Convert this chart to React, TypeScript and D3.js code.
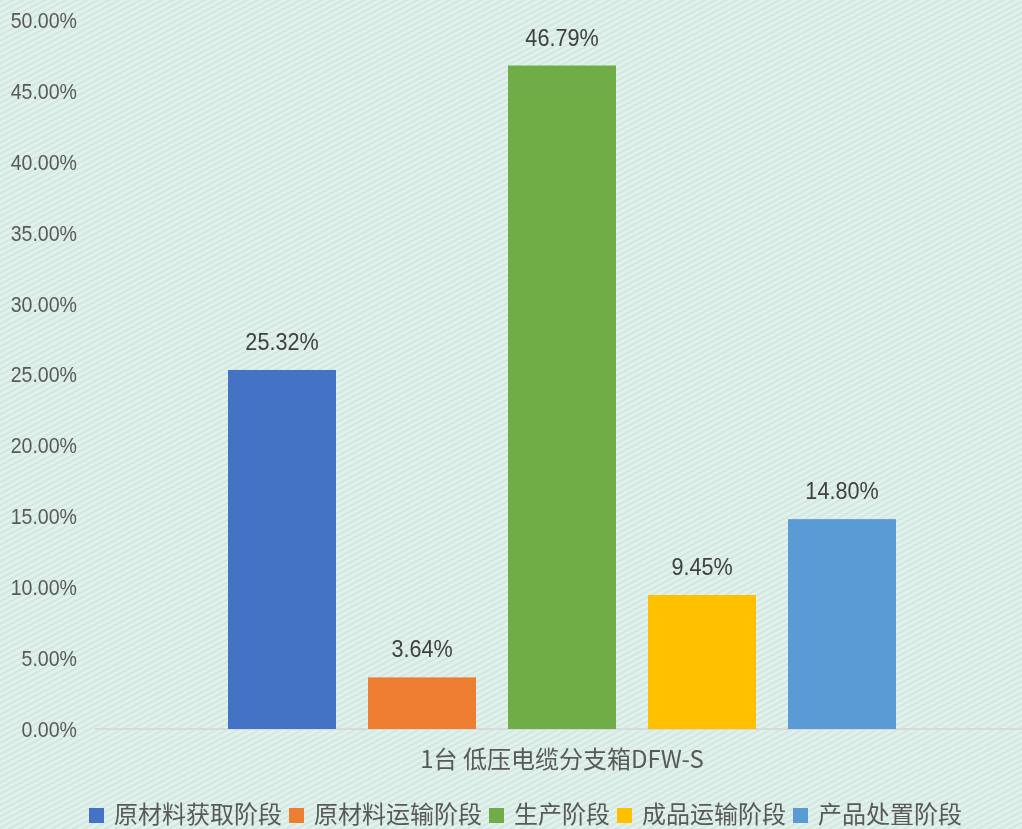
import React from "react";
import * as d3 from "d3";

const categories = ["1台 低压电缆分支箱DFW-S"];
const series = ["原材料获取阶段", "原材料运输阶段", "生产阶段", "成品运输阶段", "产品处置阶段"];
const values = [25.32, 3.64, 46.79, 9.45, 14.8];
const colors = ["#4472C4", "#ED7D31", "#70AD47", "#FFC000", "#5B9BD5"];
const yTicks = [0, 5, 10, 15, 20, 25, 30, 35, 40, 45, 50];

const W = 1022;
const H = 829;
const plotLeft = 95;
const plotRight = 1029;
const plotTop = 20;
const plotBottom = 729;

export default function App() {
  const y = d3.scaleLinear().domain([0, 50]).range([plotBottom, plotTop]);
  const x0 = d3.scaleBand().domain(categories).range([plotLeft, plotRight]).paddingInner(0).paddingOuter(0);
  const groupW = 700;
  const x1 = d3
    .scaleBand()
    .domain(series)
    .range([(x0.bandwidth() - groupW) / 2, (x0.bandwidth() + groupW) / 2])
    .paddingInner(32 / 140)
    .paddingOuter(16 / 140);

  const numFont = "'Liberation Sans', Arial, sans-serif";
  const cjkFont = "'Noto Sans CJK SC', 'Liberation Sans', sans-serif";

  // legend layout
  const legendFont = 24;
  const charW = 24;
  const sq = 15;
  const legendItems = series.map((s, i) => ({ s, i, w: sq + 10 + s.length * charW }));
  const gap = 7;
  let cx = 89;
  const legendPos = legendItems.map((d) => {
    const p = cx;
    cx += d.w + gap;
    return { ...d, x: p };
  });

  return (
    <svg
      width={W}
      height={H}
      style={{ position: "fixed", left: 0, top: 0, display: "block" }}
    >
      <defs>
        <pattern id="stripes" width="5" height="5" patternUnits="userSpaceOnUse" patternTransform="rotate(-28)">
          <rect width="5" height="5" fill="#e1f1ec" />
          <rect width="5" height="2" fill="#d3e7e1" />
        </pattern>
      </defs>
      <rect width={W} height={H} fill="url(#stripes)" />

      {/* baseline */}
      <line x1={plotLeft} x2={W} y1={y(0)} y2={y(0)} stroke="#d9d9d9" strokeWidth={2} />

      {/* y ticks */}
      {yTicks.map((t) => (
        <text
          key={t}
          transform={`translate(77,${y(t)}) scale(0.89,1)`}
          dy="0.36em"
          textAnchor="end"
          fontFamily={numFont}
          fontSize={22}
          fill="#595959"
        >
          {t.toFixed(2) + "%"}
        </text>
      ))}

      {/* bars */}
      {categories.map((c) => (
        <g key={c} transform={`translate(${x0(c)},0)`}>
          {series.map((s, i) => (
            <g key={s}>
              <rect
                x={x1(s)}
                y={y(values[i])}
                width={x1.bandwidth()}
                height={y(0) - y(values[i])}
                fill={colors[i]}
              />
              <text
                transform={`translate(${(x1(s) as number) + x1.bandwidth() / 2},${y(values[i]) - 20}) scale(0.9,1)`}
                textAnchor="middle"
                fontFamily={numFont}
                fontSize={24}
                fill="#404040"
              >
                {values[i].toFixed(2) + "%"}
              </text>
            </g>
          ))}
          <text
            x={x0.bandwidth() / 2}
            y={768}
            textAnchor="middle"
            fontFamily={cjkFont}
            fontSize={24}
            fill="#595959"
          >
            {c}
          </text>
        </g>
      ))}

      {/* legend */}
      {legendPos.map((d) => (
        <g key={d.s} transform={`translate(${d.x},0)`}>
          <rect x={0} y={808} width={sq} height={sq} fill={colors[d.i]} />
          <text
            x={sq + 10}
            y={823}
            fontFamily={cjkFont}
            fontSize={legendFont}
            fill="#595959"
          >
            {d.s}
          </text>
        </g>
      ))}
    </svg>
  );
}
